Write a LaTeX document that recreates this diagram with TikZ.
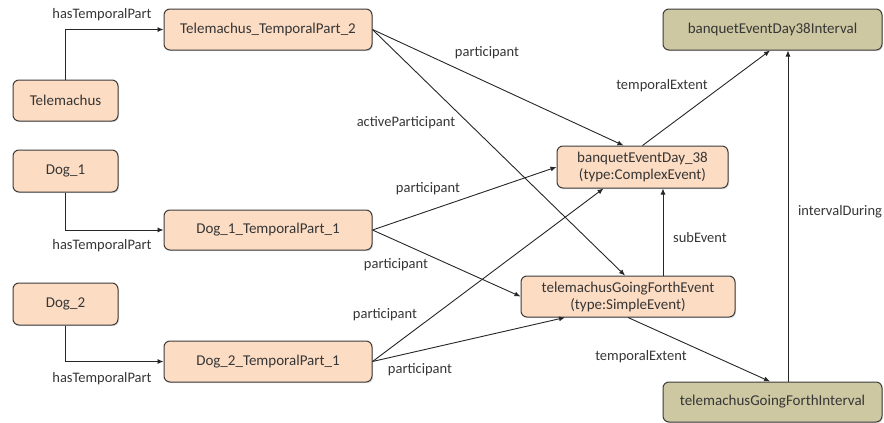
\documentclass[tikz,border=0pt]{standalone}
\usepackage{fontspec}
\setmainfont{Carlito}
\usetikzlibrary{arrows.meta,calc,shadows}
\definecolor{peach}{HTML}{FCDCC3}
\definecolor{olive}{HTML}{CEC8A2}
\definecolor{bordc}{HTML}{3C3C3C}
\definecolor{txtc}{HTML}{363636}
\tikzset{
  box/.style={draw=bordc, line width=1pt, rounded corners=6pt, align=center,
    text=txtc, font=\fontsize{15}{17}\selectfont, inner sep=0pt,
    drop shadow={shadow xshift=1pt, shadow yshift=-1.2pt, opacity=0.25}},
  ent/.style={box, fill=peach},
  intv/.style={box, fill=olive},
  conn/.style={draw=black!85, line width=0.9pt, -{Latex[length=6pt,width=5pt]}},
  lbl/.style={text=txtc, font=\fontsize{14.5}{16}\selectfont, inner sep=0pt}
}
\begin{document}
\begin{tikzpicture}[x=1pt,y=-1pt]
\useasboundingbox (0,0) rectangle (884,423);
% nodes
\node[ent, minimum width=208pt, minimum height=41pt] (tp2) at (268,29.5) {Telemachus\_TemporalPart\_2};
\node[ent, minimum width=105pt, minimum height=41pt] (tel) at (65.5,100.5) {Telemachus};
\node[ent, minimum width=105pt, minimum height=42pt] (dog1) at (65.5,171) {Dog\_1};
\node[ent, minimum width=208pt, minimum height=40pt] (d1tp) at (268,230) {Dog\_1\_TemporalPart\_1};
\node[ent, minimum width=105pt, minimum height=42pt] (dog2) at (65.5,304) {Dog\_2};
\node[ent, minimum width=208pt, minimum height=41pt] (d2tp) at (268,361.5) {Dog\_2\_TemporalPart\_1};
\node[intv, minimum width=219pt, minimum height=41pt] (bint) at (772.5,29.5) {banquetEventDay38Interval};
\node[ent, minimum width=171pt, minimum height=42pt] (banq) at (642.5,167) {banquetEventDay\_38\\(type:ComplexEvent)};
\node[ent, minimum width=214pt, minimum height=41pt] (tgf) at (628,296.5) {telemachusGoingForthEvent\\(type:SimpleEvent)};
\node[intv, minimum width=219pt, minimum height=40pt] (tint) at (772.5,402) {telemachusGoingForthInterval};
% connectors
\draw[conn] (tel.north) |- (tp2.west);
\draw[conn] (dog1.south) |- (d1tp.west);
\draw[conn] (dog2.south) |- (d2tp.west);
\draw[conn] (tp2.east) -- ([xshift=-19pt]banq.north);
\draw[conn] (tp2.east) -- ([xshift=-3pt]tgf.north);
\draw[conn] (d1tp.east) -- (banq.west);
\draw[conn] (d1tp.east) -- (tgf.west);
\draw[conn] (d2tp.east) -- ([xshift=-39pt]banq.south);
\draw[conn] (d2tp.east) -- ([xshift=-63pt]tgf.south);
\draw[conn] (banq.north) -- ([xshift=-2.5pt]bint.south);
\draw[conn] ([xshift=35pt]tgf.north) -- ([xshift=35pt]tgf.north |- banq.south);
\draw[conn] (tgf.south) -- ([xshift=-2.5pt]tint.north);
\draw[conn] ([xshift=15.5pt]tint.north) -- ([xshift=15.5pt]tint.north |- bint.south);
% labels
\node[lbl] (l1) at (102,15) {hasTemporalPart};
\node[lbl] (l2) at (102,246) {hasTemporalPart};
\node[lbl] (l3) at (102,379) {hasTemporalPart};
\node[lbl] (l4) at (487,53) {participant};
\node[lbl] (l5) at (406,123) {activeParticipant};
\node[lbl] (l6) at (662,86) {temporalExtent};
\node[lbl] (l7) at (428,189) {participant};
\node[lbl] (l8) at (396,265) {participant};
\node[lbl] (l9) at (385,315) {participant};
\node[lbl] (l10) at (420,370) {participant};
\node[lbl] (l11) at (700,238) {subEvent};
\node[lbl] (l12) at (840,212) {intervalDuring};
\node[lbl] (l13) at (641,357) {temporalExtent};
\end{tikzpicture}
\end{document}
